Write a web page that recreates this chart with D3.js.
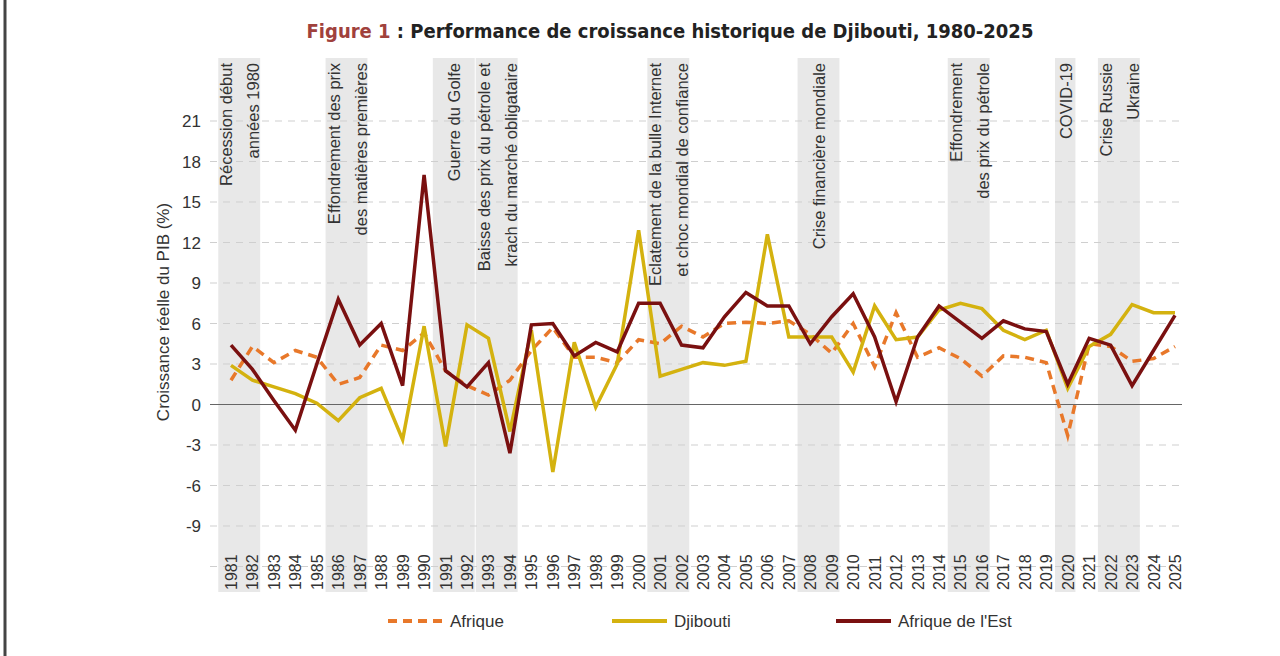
<!DOCTYPE html>
<html><head><meta charset="utf-8">
<script src="https://cdn.jsdelivr.net/npm/d3@7"></script>
<style>body{margin:0;background:#fff;font-family:"Liberation Sans",Arial,sans-serif}</style>
</head><body><svg id="chart" width="1280" height="656"></svg>
<script>
const years = d3.range(1981, 2026);
const afrique = [1.8,4.3,3.1,4.0,3.5,1.5,2.0,4.4,4.0,5.3,2.5,1.4,0.7,1.8,4.0,5.7,3.5,3.5,3.1,4.8,4.5,5.8,5.0,6.0,6.1,6.0,6.2,5.2,3.8,6.0,2.8,6.8,3.5,4.2,3.4,2.1,3.6,3.5,3.1,-2.3,4.5,4.3,3.2,3.4,4.3];
const djibouti = [2.9,1.8,1.3,0.8,0.1,-1.2,0.5,1.2,-2.6,5.8,-3.1,5.9,4.9,-2.0,5.5,-5.0,4.6,-0.2,3.0,12.9,2.1,2.6,3.1,2.9,3.2,12.6,5.0,5.0,5.0,2.4,7.3,4.8,5.0,7.0,7.5,7.1,5.5,4.8,5.5,1.2,4.3,5.2,7.4,6.8,6.8];
const afriqueEst = [4.4,2.6,0.3,-1.9,3.0,7.8,4.4,6.0,1.4,17.0,2.5,1.3,3.1,-3.6,5.9,6.0,3.6,4.6,3.9,7.5,7.5,4.4,4.2,6.5,8.3,7.3,7.3,4.5,6.5,8.2,5.0,0.2,5.0,7.3,6.1,4.9,6.2,5.6,5.4,1.5,4.9,4.4,1.4,4.0,6.6];
const yTicks = [21,18,15,12,9,6,3,0,-3,-6,-9];
const bands = [
  {from:1981,to:1982,lines:["Récession début","années 1980"]},
  {from:1986,to:1987,lines:["Effondrement des prix","des matières premières"]},
  {from:1991,to:1992,lines:["Guerre  du Golfe"]},
  {from:1993,to:1994,lines:["Baisse des prix du pétrole et","krach du marché obligataire"]},
  {from:2001,to:2002,lines:["Eclatement de la bulle Internet","et choc mondial de confiance"]},
  {from:2008,to:2009,lines:["Crise financière mondiale"]},
  {from:2015,to:2016,lines:["Effondrement","des prix du pétrole"]},
  {from:2020,to:2020,lines:["COVID-19"]},
  {from:2022,to:2023,lines:["Crise Russie","Ukraine"]}
];
const series = [
  {name:"Afrique", values:afrique, color:"#e8782a", dash:"9,6"},
  {name:"Djibouti", values:djibouti, color:"#d4b20f", dash:null},
  {name:"Afrique de l'Est", values:afriqueEst, color:"#7a1010", dash:null}
];

const svg = d3.select("#chart");
const x = d3.scalePoint().domain(years).range([231, 1175]);
const y = d3.scaleLinear().domain([-9, 21]).range([526, 121]);
const step = x.step();

svg.append("line").attr("x1",5).attr("x2",5).attr("y1",0).attr("y2",656).attr("stroke","#444").attr("stroke-width",3);

// bands
svg.selectAll(".band").data(bands).enter().append("rect")
  .attr("x", d => x(d.from) - step/2 - 2)
  .attr("width", d => x(d.to) - x(d.from) + step - 1)
  .attr("y", 58).attr("height", 534)
  .attr("fill", "#e8e8e8");

// grid
svg.selectAll(".grid").data(yTicks.concat([-12]).filter(t => t !== 0)).enter().append("line")
  .attr("x1", 210).attr("x2", 1182)
  .attr("y1", d => y(d)).attr("y2", d => y(d))
  .attr("stroke", "#cfcfcf").attr("stroke-dasharray", "7,6");
svg.append("line").attr("x1",210).attr("x2",1182).attr("y1",y(0)).attr("y2",y(0)).attr("stroke","#666");

// y axis labels
svg.selectAll(".yt").data(yTicks).enter().append("text")
  .attr("x", 201).attr("y", d => y(d) + 6).attr("text-anchor","end")
  .attr("font-size", 17).attr("fill","#333").text(d => d);
svg.append("text").attr("transform","translate(169,312) rotate(-90)")
  .attr("text-anchor","middle").attr("font-size",17).attr("fill","#333")
  .text("Croissance réelle du PIB (%)");

// x labels
svg.selectAll(".xt").data(years).enter().append("text")
  .attr("transform", d => `translate(${x(d)+6},${590}) rotate(-90)`)
  .attr("font-size", 16).attr("fill","#333").text(d => d);

// annotations
bands.forEach(b => {
  const cx = (x(b.from) + x(b.to)) / 2;
  const n = b.lines.length;
  b.lines.forEach((t, i) => {
    const off = (i - (n - 1) / 2) * 27;
    svg.append("text")
      .attr("transform", `translate(${cx + off + 4},63) rotate(-90)`)
      .attr("text-anchor","end").attr("font-size",16.5).attr("fill","#333").text(t);
  });
});

// lines
const line = d3.line().x((d,i) => x(years[i])).y(d => y(d));
series.forEach(s => {
  svg.append("path").datum(s.values).attr("d", line)
    .attr("fill","none").attr("stroke", s.color).attr("stroke-width", 3.5)
    .attr("stroke-linejoin","miter")
    .attr("stroke-dasharray", s.dash);
});

// title
const title = svg.append("text").attr("x", 670).attr("y", 38).attr("text-anchor","middle")
  .attr("font-family","'Liberation Sans Narrow','DejaVu Sans Condensed',sans-serif")
  .attr("font-size", 20).attr("font-weight","bold").attr("fill","#222");
title.append("tspan").attr("fill","#a0413c").text("Figure 1");
title.append("tspan").text(" : Performance de croissance historique de Djibouti, 1980-2025");

// legend
const legX = [388, 612, 836];
series.forEach((s, i) => {
  svg.append("line").attr("x1", legX[i]).attr("x2", legX[i] + 55)
    .attr("y1", 621).attr("y2", 621).attr("stroke", s.color).attr("stroke-width", 4)
    .attr("stroke-dasharray", s.dash);
  svg.append("text").attr("x", legX[i] + 62).attr("y", 627)
    .attr("font-size", 17).attr("fill","#333").text(s.name);
});
</script></body></html>
